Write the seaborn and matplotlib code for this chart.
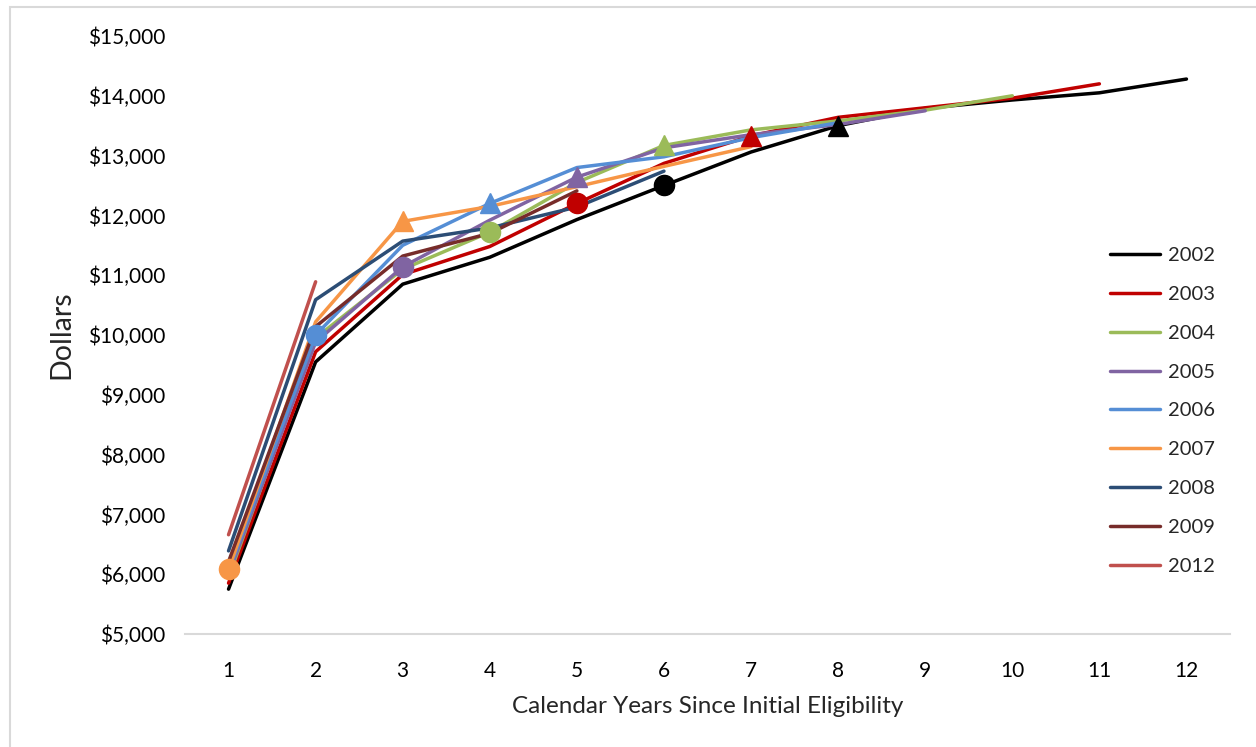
import numpy as np
import pandas as pd
import matplotlib
matplotlib.use("Agg")
import matplotlib.pyplot as plt
import seaborn as sns
from matplotlib.patches import Rectangle
from matplotlib.ticker import StrMethodFormatter

# Calendar years since initial eligibility
years_since = list(range(1, 13))

# Average dollars per year for each eligibility cohort
cohorts = ["2002", "2003", "2004", "2005", "2006", "2007", "2008", "2009", "2012"]
c2002 = [5750, 9550, 10850, 11300, 11930, 12500, 13060, 13500, 13790, 13930, 14050, 14280]
c2003 = [5850, 9720, 11010, 11480, 12200, 12870, 13330, 13640, 13800, 13960, 14200]
c2004 = [5950, 9950, 11100, 11720, 12550, 13170, 13430, 13580, 13760, 14000]
c2005 = [6000, 9880, 11140, 11920, 12640, 13130, 13350, 13520, 13750]
c2006 = [6050, 10000, 11500, 12200, 12800, 12980, 13300, 13550]
c2007 = [6080, 10220, 11900, 12150, 12480, 12820, 13150]
c2008 = [6390, 10590, 11570, 11790, 12140, 12740]
c2009 = [6210, 10140, 11320, 11700, 12410]
c2012 = [6660, 10890]
series = [c2002, c2003, c2004, c2005, c2006, c2007, c2008, c2009, c2012]

colors = ["#000000", "#C00000", "#9BBB59", "#8064A2", "#558ED5",
          "#F79646", "#2C4D75", "#772C2A", "#C0504D"]

# Highlighted points: circle at year (2008 - cohort), triangle two years later
circle_cohorts = ["2007", "2006", "2005", "2004", "2003", "2002"]
circle_years = [1, 2, 3, 4, 5, 6]
triangle_years = [3, 4, 5, 6, 7, 8]

y_ticks = list(range(5000, 15001, 1000))

sns.set_theme(style="white")
plt.rcParams["font.family"] = ["Lato", "DejaVu Sans"]
plt.rcParams["lines.solid_capstyle"] = "round"
plt.rcParams["lines.solid_joinstyle"] = "round"

rows = []
for cohort, vals in zip(cohorts, series):
    for yr, v in zip(years_since, vals):
        rows.append({"year": yr, "dollars": v, "cohort": cohort})
df = pd.DataFrame(rows)
palette = dict(zip(cohorts, colors))

fig = plt.figure(figsize=(12.56, 7.47), dpi=100)
ax = fig.add_axes([185 / 1256, 1 - 634 / 747, (1230 - 185) / 1256, (634 - 36) / 747])

sns.lineplot(data=df, x="year", y="dollars", hue="cohort", palette=palette,
             linewidth=2.5, estimator=None, sort=False, ax=ax)

lookup = {c: v for c, v in zip(cohorts, series)}
for cohort, cy, ty in zip(circle_cohorts, circle_years, triangle_years):
    vals = lookup[cohort]
    ax.plot([cy], [vals[cy - 1]], marker="o", markersize=14.5, color=palette[cohort],
            linestyle="none", zorder=5)
    ax.plot([ty], [vals[ty - 1]], marker="^", markersize=15, color=palette[cohort],
            linestyle="none", zorder=5)

ax.set_xlim(0.5, 12.5)
ax.set_ylim(5000, 15000)
ax.set_xticks(years_since)
ax.set_yticks(y_ticks)
ax.yaxis.set_major_formatter(StrMethodFormatter("${x:,.0f}"))
ax.tick_params(axis="both", length=0, labelsize=15, colors="#000000")
ax.tick_params(axis="y", pad=14)
ax.tick_params(axis="x", pad=19.5)

for side in ["top", "right", "left"]:
    ax.spines[side].set_visible(False)
ax.spines["bottom"].set_color("#D9D9D9")
ax.spines["bottom"].set_linewidth(1.5)
ax.grid(False)

ax.set_xlabel("Calendar Years Since Initial Eligibility", fontsize=17.5, labelpad=11)
ax.set_ylabel("Dollars", fontsize=20.5, labelpad=10)

handles, labels = ax.get_legend_handles_labels()
ax.legend(handles, labels, loc="upper left", bbox_to_anchor=(1110 / 1256, 1 - 247 / 747),
          bbox_transform=fig.transFigure, frameon=False, fontsize=14.5,
          handlelength=2.5, handletextpad=0.4, labelspacing=1.08,
          borderpad=0, borderaxespad=0)

# Chart area frame
fig.patches.append(Rectangle((10 / 1256, -0.05), 1.2, 1 - 7 / 747 + 0.05,
                             transform=fig.transFigure, fill=False,
                             edgecolor="#D9D9D9", linewidth=1.5))

fig.savefig("out.png", dpi=100)
